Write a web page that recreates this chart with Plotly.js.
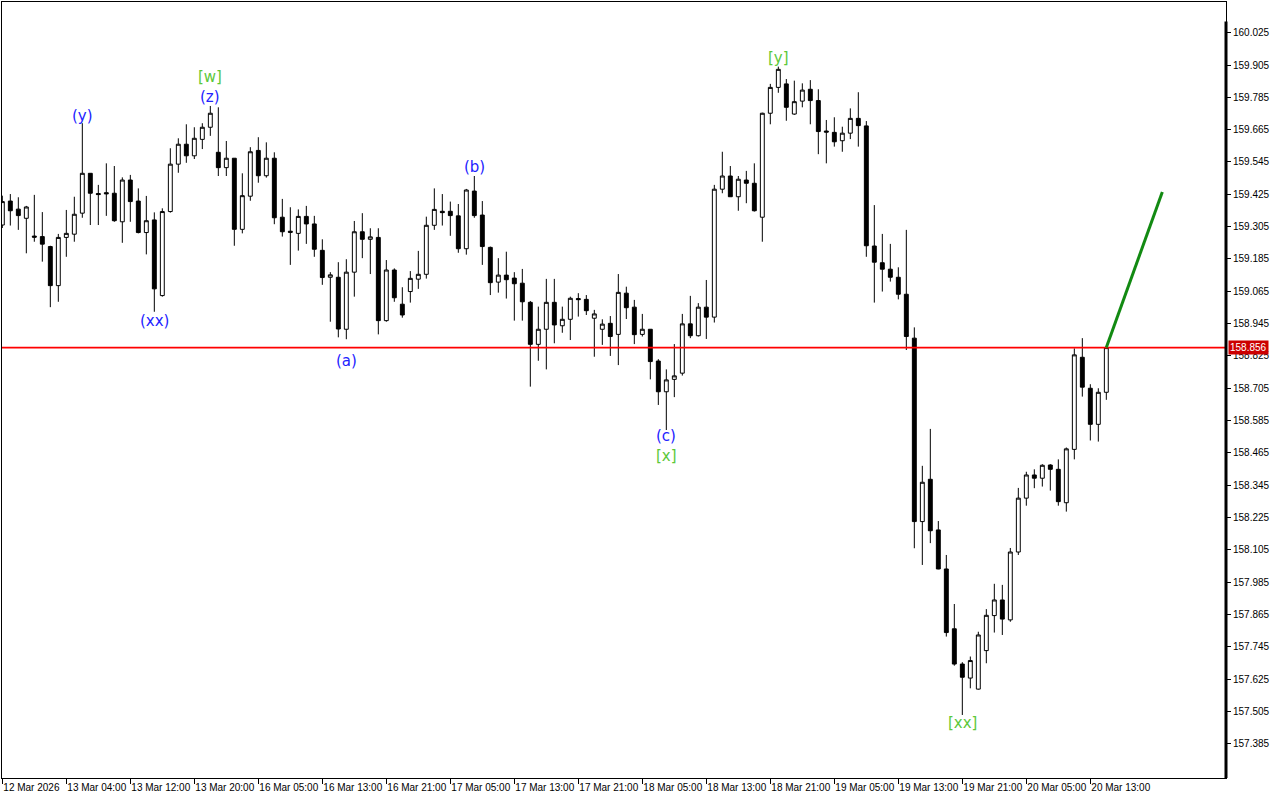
<!DOCTYPE html>
<html><head><meta charset="utf-8">
<script src="https://cdn.plot.ly/plotly-3.0.1.min.js"></script>
<style>html,body{margin:0;padding:0;background:#fff;} #chart{width:1280px;height:800px;}</style>
</head><body><div id="chart"></div>
<script>
// Hourly bars, index 0 = 12 Mar 2026 20:00
const opens = [159.311,159.400,159.370,159.336,159.270,159.268,159.231,159.086,159.265,159.277,
159.355,159.503,159.428,159.431,159.429,159.323,159.478,159.400,159.283,159.330,
159.049,159.361,159.537,159.611,159.568,159.629,159.674,159.581,159.524,159.559,
159.295,159.418,159.588,159.494,159.559,159.340,159.288,159.280,159.343,159.315,
159.217,159.117,159.117,158.924,159.136,159.286,159.258,159.265,158.956,159.144,
159.017,159.064,159.110,159.128,159.310,159.362,159.362,159.345,159.223,159.437,
159.348,159.228,159.099,159.125,159.114,159.095,159.024,158.868,158.924,159.024,
158.937,158.961,159.038,159.035,158.965,158.924,158.946,158.905,159.058,159.006,
158.905,158.924,158.806,158.692,158.738,158.761,158.944,158.900,159.006,158.969,
159.444,159.493,159.416,159.478,159.466,159.340,159.726,159.822,159.835,159.723,
159.771,159.815,159.773,159.660,159.655,159.624,159.652,159.707,159.679,159.233,
159.171,159.147,159.117,159.054,158.891,158.210,158.367,158.179,158.034,157.812,
157.681,157.629,157.588,157.731,157.861,157.919,157.845,158.097,158.297,158.383,
158.371,158.420,158.404,158.280,158.478,158.820,158.705,158.571,158.690];
const highs = [159.420,159.426,159.414,159.382,159.423,159.359,159.234,159.278,159.367,159.416,
159.689,159.503,159.460,159.540,159.530,159.488,159.497,159.447,159.419,159.358,
159.373,159.596,159.633,159.685,159.674,159.689,159.753,159.748,159.623,159.559,
159.503,159.600,159.637,159.618,159.581,159.408,159.377,159.369,159.382,159.345,
159.258,159.136,159.173,159.184,159.326,159.355,159.299,159.299,159.181,159.150,
159.080,159.140,159.215,159.342,159.447,159.426,159.398,159.389,159.445,159.493,
159.400,159.231,159.188,159.212,159.136,159.148,159.029,159.008,159.111,159.111,
159.008,159.045,159.058,159.051,158.996,158.961,158.973,159.129,159.082,159.033,
158.981,158.924,158.813,158.775,158.869,158.981,159.048,159.021,159.107,159.460,
159.583,159.530,159.493,159.512,159.540,159.728,159.835,159.899,159.853,159.847,
159.837,159.849,159.815,159.701,159.711,159.676,159.744,159.804,159.697,159.385,
159.278,159.241,159.154,159.293,158.931,158.417,158.554,158.212,158.086,157.904,
157.688,157.709,157.801,157.885,157.979,157.975,158.112,158.335,158.395,158.404,
158.423,158.423,158.441,158.485,158.853,158.891,158.720,158.705,158.858];
const lows = [159.300,159.309,159.293,159.206,159.249,159.175,159.006,159.026,159.193,159.249,
159.338,159.311,159.311,159.345,159.323,159.245,159.323,159.280,159.202,158.989,
159.045,159.357,159.505,159.542,159.556,159.593,159.642,159.493,159.493,159.234,
159.280,159.401,159.468,159.487,159.314,159.268,159.163,159.216,159.241,159.193,
159.089,158.952,158.894,158.887,159.045,159.188,159.129,158.905,158.952,159.026,
158.967,159.023,159.074,159.112,159.293,159.309,159.271,159.208,159.201,159.338,
159.163,159.051,159.060,159.038,158.956,158.956,158.711,158.807,158.775,158.872,
158.911,158.884,158.971,158.977,158.822,158.866,158.825,158.791,158.962,158.869,
158.897,158.738,158.643,158.550,158.672,158.752,158.891,158.897,158.888,158.949,
159.429,159.416,159.364,159.392,159.361,159.249,159.685,159.802,159.698,159.720,
159.748,159.685,159.574,159.540,159.602,159.583,159.630,159.602,159.193,159.023,
159.064,159.101,159.035,158.847,158.111,158.049,158.130,158.033,157.783,157.675,
157.492,157.591,157.586,157.684,157.798,157.789,157.838,158.086,158.269,158.334,
158.340,158.325,158.269,158.247,158.441,158.674,158.511,158.507,158.662];
const closes = [159.398,159.364,159.346,159.378,159.266,159.240,159.086,159.265,159.280,159.351,
159.503,159.429,159.424,159.427,159.327,159.478,159.398,159.283,159.327,159.074,
159.361,159.537,159.611,159.568,159.633,159.674,159.726,159.524,159.559,159.295,
159.420,159.583,159.494,159.559,159.338,159.286,159.284,159.343,159.315,159.221,
159.116,159.126,158.925,159.136,159.286,159.258,159.267,158.956,159.144,159.041,
158.977,159.113,159.128,159.310,159.369,159.357,159.346,159.223,159.441,159.346,
159.231,159.097,159.125,159.108,159.093,159.026,158.868,158.924,159.024,158.940,
158.961,159.039,159.034,158.993,158.981,158.943,158.897,159.061,159.004,158.904,
158.924,158.804,158.692,158.736,158.751,158.944,158.900,159.006,158.969,159.444,
159.493,159.416,159.481,159.466,159.364,159.726,159.822,159.889,159.748,159.769,
159.812,159.773,159.658,159.656,159.620,159.652,159.707,159.680,159.234,159.173,
159.147,159.117,159.054,158.897,158.210,158.356,158.176,158.034,157.798,157.681,
157.632,157.694,157.789,157.862,157.919,157.848,158.097,158.297,158.383,158.371,
158.419,158.404,158.284,158.480,158.829,158.709,158.571,158.690,158.856];

const timeTickIdx = [0,8,16,24,32,40,48,56,64,72,80,88,96,104,112,120,128,136];
const timeTickText = ["12 Mar 2026","13 Mar 04:00","13 Mar 12:00","13 Mar 20:00","16 Mar 05:00","16 Mar 13:00",
"16 Mar 21:00","17 Mar 05:00","17 Mar 13:00","17 Mar 21:00","18 Mar 05:00","18 Mar 13:00","18 Mar 21:00",
"19 Mar 05:00","19 Mar 13:00","19 Mar 21:00","20 Mar 05:00","20 Mar 13:00"];
const priceTicks = [157.385,157.505,157.625,157.745,157.865,157.985,158.105,158.225,158.345,158.465,158.585,
158.705,158.825,158.945,159.065,159.185,159.305,159.425,159.545,159.665,159.785,159.905,160.025];
const lastPrice = 158.856;
const forecastX = [138, 145];
const forecastY = [158.856, 159.434];

const waveText  = ["(y)","(z)","[w]","(xx)","(a)","(b)","(c)","[x]","[y]","[xx]"];
const waveBar   = [10, 26, 26, 19, 43, 59, 83, 83, 97, 120];
const wavePrice = [159.716, 159.786, 159.861, 158.955, 158.806, 159.527, 158.528, 158.454, 159.931, 157.463];
const waveKind  = ["minor","minor","major","minor","minor","minor","minor","major","major","major"];

const bars = opens.map((_, i) => i);
const BLUE = "#2323ff", GREEN = "#5cc83a";
const X_RANGE = [-0.04, 152.96];

const traces = [{
  type: "scatter", mode: "lines", x: X_RANGE, y: [lastPrice, lastPrice],
  line: {color: "#ff0000", width: 1.6}, hoverinfo: "none", showlegend: false
},{
  type: "candlestick", x: bars, open: opens, high: highs, low: lows, close: closes,
  increasing: {line: {color: "#000", width: 1}, fillcolor: "#fff"},
  decreasing: {line: {color: "#000", width: 1}, fillcolor: "#000"},
  whiskerwidth: 0, hoverinfo: "none", showlegend: false
},{
  type: "scatter", mode: "lines", x: forecastX, y: forecastY,
  line: {color: "#128a12", width: 3}, hoverinfo: "none", showlegend: false
}];

const annotations = waveText.map((t, i) => ({
  x: waveBar[i], y: wavePrice[i], xref: "x", yref: "y", text: t, showarrow: false,
  xanchor: "center", yanchor: "middle",
  font: {family: "DejaVu Sans, sans-serif", size: 15, color: waveKind[i] === "major" ? GREEN : BLUE}
}));
annotations.push({
  x: 1, xref: "paper", y: lastPrice, yref: "y", text: lastPrice.toFixed(3), showarrow: false,
  xanchor: "left", yanchor: "middle", xshift: 2, bgcolor: "#cc0000", borderpad: 1,
  font: {family: "Liberation Sans, Arial, sans-serif", size: 10, color: "#fff"}
});

const layout = {
  width: 1280, height: 800,
  margin: {l: 2, r: 54, t: 2, b: 22, pad: 0},
  paper_bgcolor: "#fff", plot_bgcolor: "#fff",
  showlegend: false, hovermode: false, dragmode: false,
  font: {family: "Liberation Sans, Arial, sans-serif", size: 10, color: "#000"},
  xaxis: {
    type: "linear", range: X_RANGE, rangeslider: {visible: false},
    tickmode: "array", tickvals: timeTickIdx, ticktext: timeTickText,
    ticks: "outside", ticklen: 5, tickcolor: "#000", tickwidth: 1, tickangle: 0,
    ticklabelposition: "outside right", ticklabeloverflow: "allow",
    showgrid: false, zeroline: false, showline: true, linecolor: "#000", linewidth: 1, mirror: true,
    tickfont: {size: 10}, automargin: false, fixedrange: true
  },
  yaxis: {
    side: "right", range: [157.258, 160.139],
    tickmode: "array", tickvals: priceTicks, tickformat: ".3f",
    ticks: "outside", ticklen: 4, tickcolor: "#000",
    showgrid: false, zeroline: false, showline: true, linecolor: "#000", linewidth: 1, mirror: true,
    tickfont: {size: 10}, automargin: false, fixedrange: true
  },
  shapes: [{
    type: "line", xref: "paper", x0: 1, x1: 1, yref: "paper", y0: 0, y1: 0.975,
    line: {color: "#000", width: 3}
  }],
  annotations: annotations
};

Plotly.newPlot("chart", traces, layout, {displayModeBar: false, staticPlot: true});
</script></body></html>
